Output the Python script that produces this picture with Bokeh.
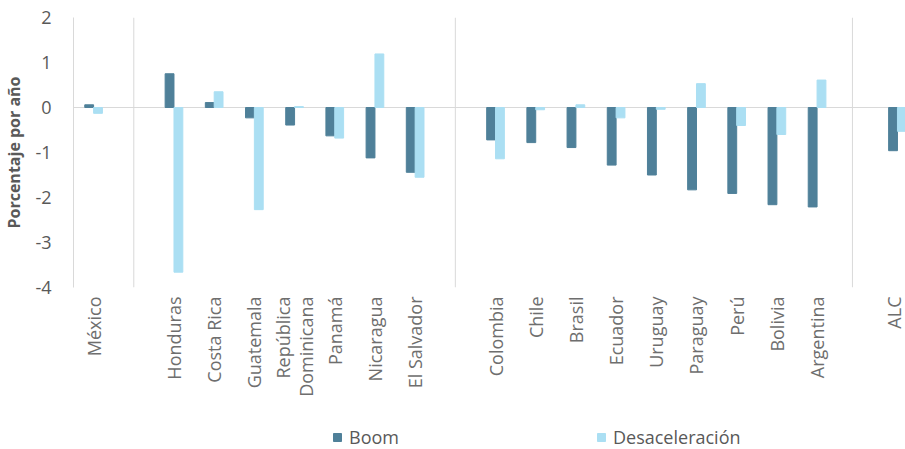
from bokeh.plotting import figure
from bokeh.models import ColumnDataSource, FixedTicker, Span, Legend, LegendItem, Range1d
from bokeh.layouts import column
from bokeh.embed import file_html
from bokeh.resources import INLINE
import math

# ---- data ----
categories = ["México", "", "Honduras", "Costa Rica", "Guatemala", "República\nDominicana",
              "Panamá", "Nicaragua", "El Salvador", "", "Colombia", "Chile", "Brasil",
              "Ecuador", "Uruguay", "Paraguay", "Perú", "Bolivia", "Argentina", "", "ALC"]
boom = [0.06, None, 0.75, 0.11, -0.23, -0.39, -0.63, -1.12, -1.44, None, -0.72, -0.78, -0.89,
        -1.28, -1.50, -1.83, -1.91, -2.16, -2.21, None, -0.96]
desaceleracion = [-0.13, None, -3.66, 0.35, -2.27, 0.02, -0.68, 1.19, -1.55, None, -1.14, -0.05, 0.06,
                  -0.23, -0.04, 0.53, -0.40, -0.60, 0.61, None, -0.53]
y_ticks = [2, 1, 0, -1, -2, -3, -4]
y_tick_labels = ["2", "1", "0", "-1", "-2", "-3", "-4"]
separators = [1, 9, 18.88]
series_names = ["Boom", "Desaceleración"]

BOOM_COLOR = "#4f8099"
DESAC_COLOR = "#abdff3"
FONT = "Open Sans"
TEXT = "#595959"

idx = [i for i, c in enumerate(categories) if c]
src = ColumnDataSource(dict(
    x_boom=[i - 0.11 for i in idx],
    x_desac=[i + 0.11 for i in idx],
    boom=[boom[i] for i in idx],
    desac=[desaceleracion[i] for i in idx],
))

p = figure(width=905, height=420, output_backend="svg", toolbar_location=None,
           x_range=Range1d(-0.5, 20.2), y_range=Range1d(-4, 2),
           min_border_left=70, min_border_right=0, min_border_top=17, min_border_bottom=133)
p.outline_line_color = None
p.xgrid.grid_line_color = None
p.ygrid.grid_line_color = None

p.add_layout(Span(location=0, dimension="width", line_color="#d9d9d9", line_width=1, level="underlay"))
for s in separators:
    p.add_layout(Span(location=s, dimension="height", line_color="#d9d9d9", line_width=1, level="underlay"))

p.vbar(x="x_boom", top="boom", bottom=0, width=0.22, source=src,
       fill_color=BOOM_COLOR, line_color=BOOM_COLOR)
p.vbar(x="x_desac", top="desac", bottom=0, width=0.22, source=src,
       fill_color=DESAC_COLOR, line_color=DESAC_COLOR)

# x axis
p.xaxis.ticker = FixedTicker(ticks=idx)
p.xaxis.major_label_overrides = {i: categories[i] for i in idx}
p.xaxis.major_label_orientation = math.pi / 2
p.xaxis.axis_line_color = None
p.xaxis.major_tick_line_color = None
p.xaxis.minor_tick_line_color = None
p.xaxis.major_tick_in = 0
p.xaxis.major_tick_out = 0
p.xaxis.major_label_standoff = 9
p.xaxis.major_label_text_font = FONT
p.xaxis.major_label_text_font_size = "18px"
p.xaxis.major_label_text_line_height = 0.95
p.xaxis.major_label_text_color = "#6e6e6e"

# y axis
p.yaxis.ticker = FixedTicker(ticks=y_ticks)
p.yaxis.major_label_overrides = dict(zip(y_ticks, y_tick_labels))
p.yaxis.axis_line_color = "#d9d9d9"
p.yaxis.major_tick_line_color = None
p.yaxis.minor_tick_line_color = None
p.yaxis.major_tick_in = 0
p.yaxis.major_tick_out = 0
p.yaxis.major_label_standoff = 22
p.yaxis.major_label_text_font = FONT
p.yaxis.major_label_text_font_size = "18px"
p.yaxis.major_label_text_color = TEXT
p.yaxis.axis_label = "Porcentaje por año"
p.yaxis.axis_label_text_font = FONT
p.yaxis.axis_label_text_font_size = "16px"
p.yaxis.axis_label_text_font_style = "bold"
p.yaxis.axis_label_text_color = TEXT
p.yaxis.axis_label_standoff = 7

# legend strip below the chart (same data, drawn out of its visible range)
lf = figure(width=905, height=29, output_backend="svg", toolbar_location=None,
            x_range=Range1d(-0.5, 20.2), y_range=Range1d(10, 11),
            x_axis_type=None, y_axis_type=None,
            min_border_left=70, min_border_right=0, min_border_top=0, min_border_bottom=0)
lf.outline_line_color = None
lb = lf.vbar(x="x_boom", top="boom", bottom=0, width=0.22, source=src,
             fill_color=BOOM_COLOR, line_color=BOOM_COLOR)
ld = lf.vbar(x="x_desac", top="desac", bottom=0, width=0.22, source=src,
             fill_color=DESAC_COLOR, line_color=DESAC_COLOR)
legend = Legend(items=[LegendItem(label=series_names[0], renderers=[lb]),
                       LegendItem(label=series_names[1], renderers=[ld])],
                location=(259, 0), orientation="horizontal",
                glyph_width=10, glyph_height=10, label_standoff=7, label_width=247, label_height=16,
                spacing=0, padding=0, margin=0, border_line_color=None, background_fill_alpha=0,
                label_text_font=FONT, label_text_font_size="18px", label_text_color=TEXT)
lf.add_layout(legend, "center")

layout = column(p, lf, spacing=0)
open("out.html", "w").write(file_html(layout, INLINE))
